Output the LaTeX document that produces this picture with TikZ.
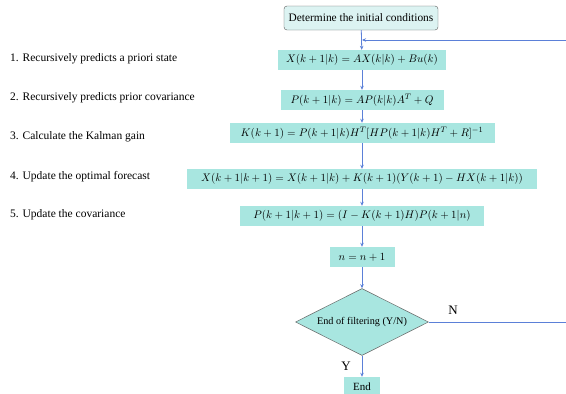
\documentclass[tikz,border=0pt]{standalone}
\usepackage{fontspec}
\setmainfont{Liberation Serif}
\usetikzlibrary{shapes.geometric,arrows.meta}
\definecolor{boxfill}{HTML}{A8E6E0}
\definecolor{topfill}{HTML}{DCF3F2}
\definecolor{linkblue}{HTML}{5B80D8}
\begin{document}
\begin{tikzpicture}[x=1pt,y=-1pt,
  stepbox/.style={fill=boxfill,minimum height=20pt,inner sep=0pt,font=\fontsize{11}{13}\selectfont},
  startbox/.style={fill=topfill,draw=black!65,rounded corners=3pt,minimum height=24pt,minimum width=154pt,inner sep=0pt,font=\fontsize{11.4}{13}\selectfont},
  decision/.style={diamond,aspect=2,fill=boxfill,draw=black!60,line width=0.5pt,minimum width=133pt,minimum height=67pt,inner sep=0pt,font=\fontsize{10.2}{12}\selectfont},
  steplabel/.style={anchor=west,inner sep=0pt,font=\fontsize{11.5}{13}\selectfont},
  link/.style={draw=linkblue,line width=0.8pt,-{Stealth[length=4pt,width=3.5pt]}},
  yn/.style={inner sep=0pt,font=\fontsize{13}{15}\selectfont}]
\useasboundingbox (0,0) rectangle (566,394);
\node[startbox] (init) at (361,18) {Determine the initial conditions};
\node[stepbox,minimum width=168pt] (s1) at (362,60) {$X(k+1|k)=AX(k|k)+Bu(k)$};
\node[stepbox,minimum width=163pt] (s2) at (362,100) {$P(k+1|k)=AP(k|k)A^T+Q$};
\node[stepbox,minimum width=265pt] (s3) at (362,133) {$K(k+1)=P(k+1|k)H^T[HP(k+1|k)H^T+R]^{-1}$};
\node[stepbox,minimum width=350pt] (s4) at (362,179) {$X(k+1|k+1)=X(k+1|k)+K(k+1)(Y(k+1)-HX(k+1|k))$};
\node[stepbox,minimum width=244pt] (s5) at (362,216) {$P(k+1|k+1)=(I-K(k+1)H)P(k+1|n)$};
\node[stepbox,minimum width=65pt] (s6) at (362,257) {$n=n+1$};
\node[decision] (dec) at (362,322) {End of filtering (Y/N)};
\node[stepbox,minimum width=36pt,font=\fontsize{11}{13}\selectfont] (end) at (362,387) {End};
\node[steplabel] (l1) at (10,59) {1. Recursively predicts a priori state};
\node[steplabel] (l2) at (10,98) {2. Recursively predicts prior covariance};
\node[steplabel] (l3) at (10,137) {3. Calculate the Kalman gain};
\node[steplabel] (l4) at (10,177) {4. Update the optimal forecast};
\node[steplabel] (l5) at (10,215) {5. Update the covariance};
\node[yn] (nlab) at (453,310) {N};
\node[yn] (ylab) at (346,366) {Y};
\coordinate (join) at (362,40);
\coordinate (rdown) at (569,322);
\coordinate (rup) at (569,40);
\draw[link] (init) -- (s1);
\draw[link] (s1) -- (s2);
\draw[link] (s2) -- (s3);
\draw[link] (s3) -- (s4);
\draw[link] (s4) -- (s5);
\draw[link] (s5) -- (s6);
\draw[link] (s6) -- (dec.north);
\draw[link] (dec.south) -- (end);
\draw[link] (dec.east) -- (rdown) -- (rup) -- (join);
\end{tikzpicture}
\end{document}
